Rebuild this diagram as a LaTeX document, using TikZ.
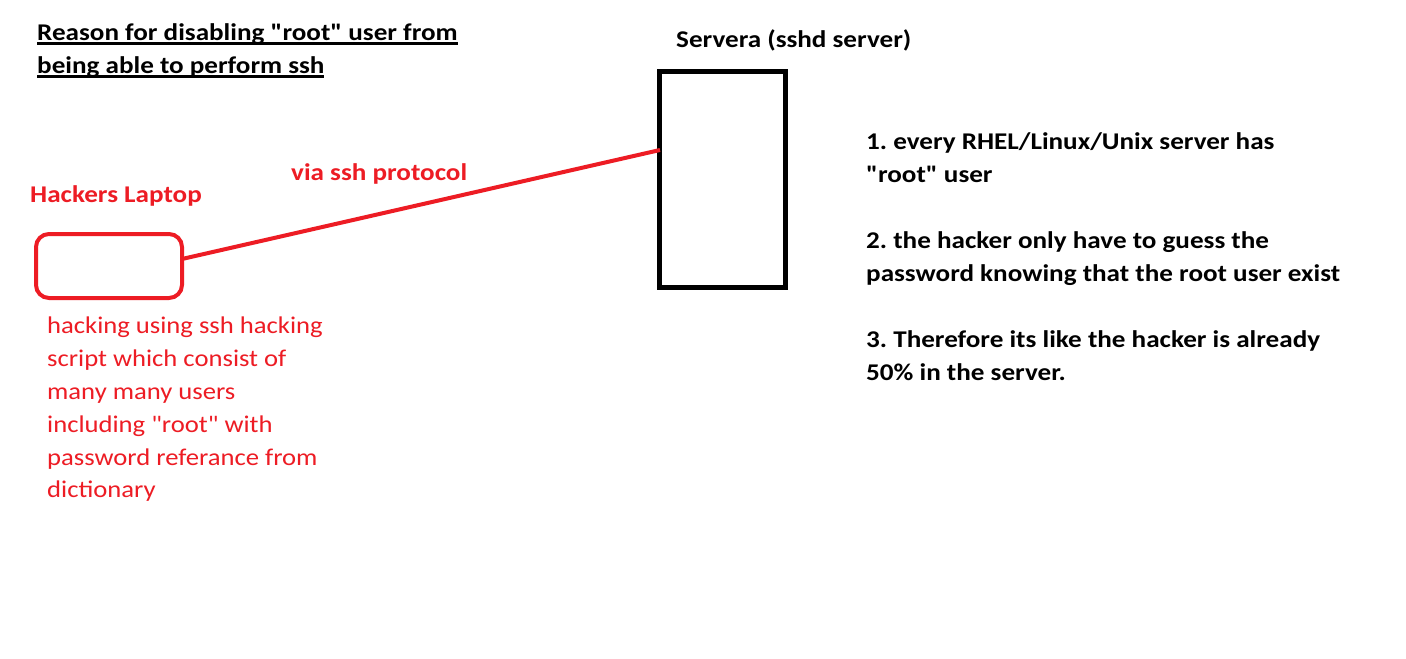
\documentclass[tikz,border=0pt]{standalone}
\usepackage{fontspec}
\newfontfamily\calfont{Carlito}[FakeStretch=1.11, BoldFeatures={FakeStretch=1.13}]
\definecolor{pred}{HTML}{ED1C24}
\newcommand\myul[1]{\setbox0\hbox{#1}\rlap{\rule[-4bp]{\wd0}{2.5bp}}\box0}
\frenchspacing
\begin{document}
\begin{tikzpicture}[x=1bp,y=-1bp,
  txt/.style={inner sep=0pt, anchor=base west, font=\calfont\fontsize{24bp}{33bp}\selectfont},
  btxt/.style={txt, font=\calfont\fontsize{24bp}{33bp}\selectfont\bfseries},
  rtxt/.style={txt, text=pred},
  rbtxt/.style={btxt, text=pred},
  laptop/.style={draw=pred, line width=4bp, rounded corners=13bp},
  server/.style={draw=black, line width=5bp},
  link/.style={draw=pred, line width=4bp}]
\useasboundingbox[fill=white] (0,0) rectangle (1406,659);
% title
\node[btxt] (t1) at (37,41) {\myul{Reason for disabling "root" user from}};
\node[btxt] (t2) at (37,74) {\myul{being able to perform ssh}};
% server
\node[btxt] (slabel) at (676,48) {Servera (sshd server)};
\draw[server] (659.5,71.5) rectangle (785.5,287.5);
\coordinate (srv) at (660,150);
% laptop
\node[rbtxt] (hlabel) at (30,202) {Hackers Laptop};
\draw[laptop] (36,234) rectangle (182,298);
\coordinate (lap) at (182,259);
\draw[link] (lap) -- (srv);
\node[rbtxt] (via) at (291,180) {via ssh protocol};
% red description
\node[rtxt] (r1) at (47,333) {hacking using ssh hacking};
\node[rtxt] (r2) at (47,366) {script which consist of};
\node[rtxt] (r3) at (47,399) {many many users};
\node[rtxt] (r4) at (47,432) {including "root" with};
\node[rtxt] (r5) at (47,465) {password referance from};
\node[rtxt] (r6) at (47,497) {dictionary};
% right notes
\node[btxt] (n1) at (866,149) {1. every RHEL/Linux/Unix server has};
\node[btxt] (n2) at (866,182) {"root" user};
\node[btxt] (n3) at (866,248) {2. the hacker only have to guess the};
\node[btxt] (n4) at (866,281) {password knowing that the root user exist};
\node[btxt] (n5) at (866,347) {3. Therefore its like the hacker is already};
\node[btxt] (n6) at (866,380) {50\% in the server.};
\end{tikzpicture}
\end{document}
